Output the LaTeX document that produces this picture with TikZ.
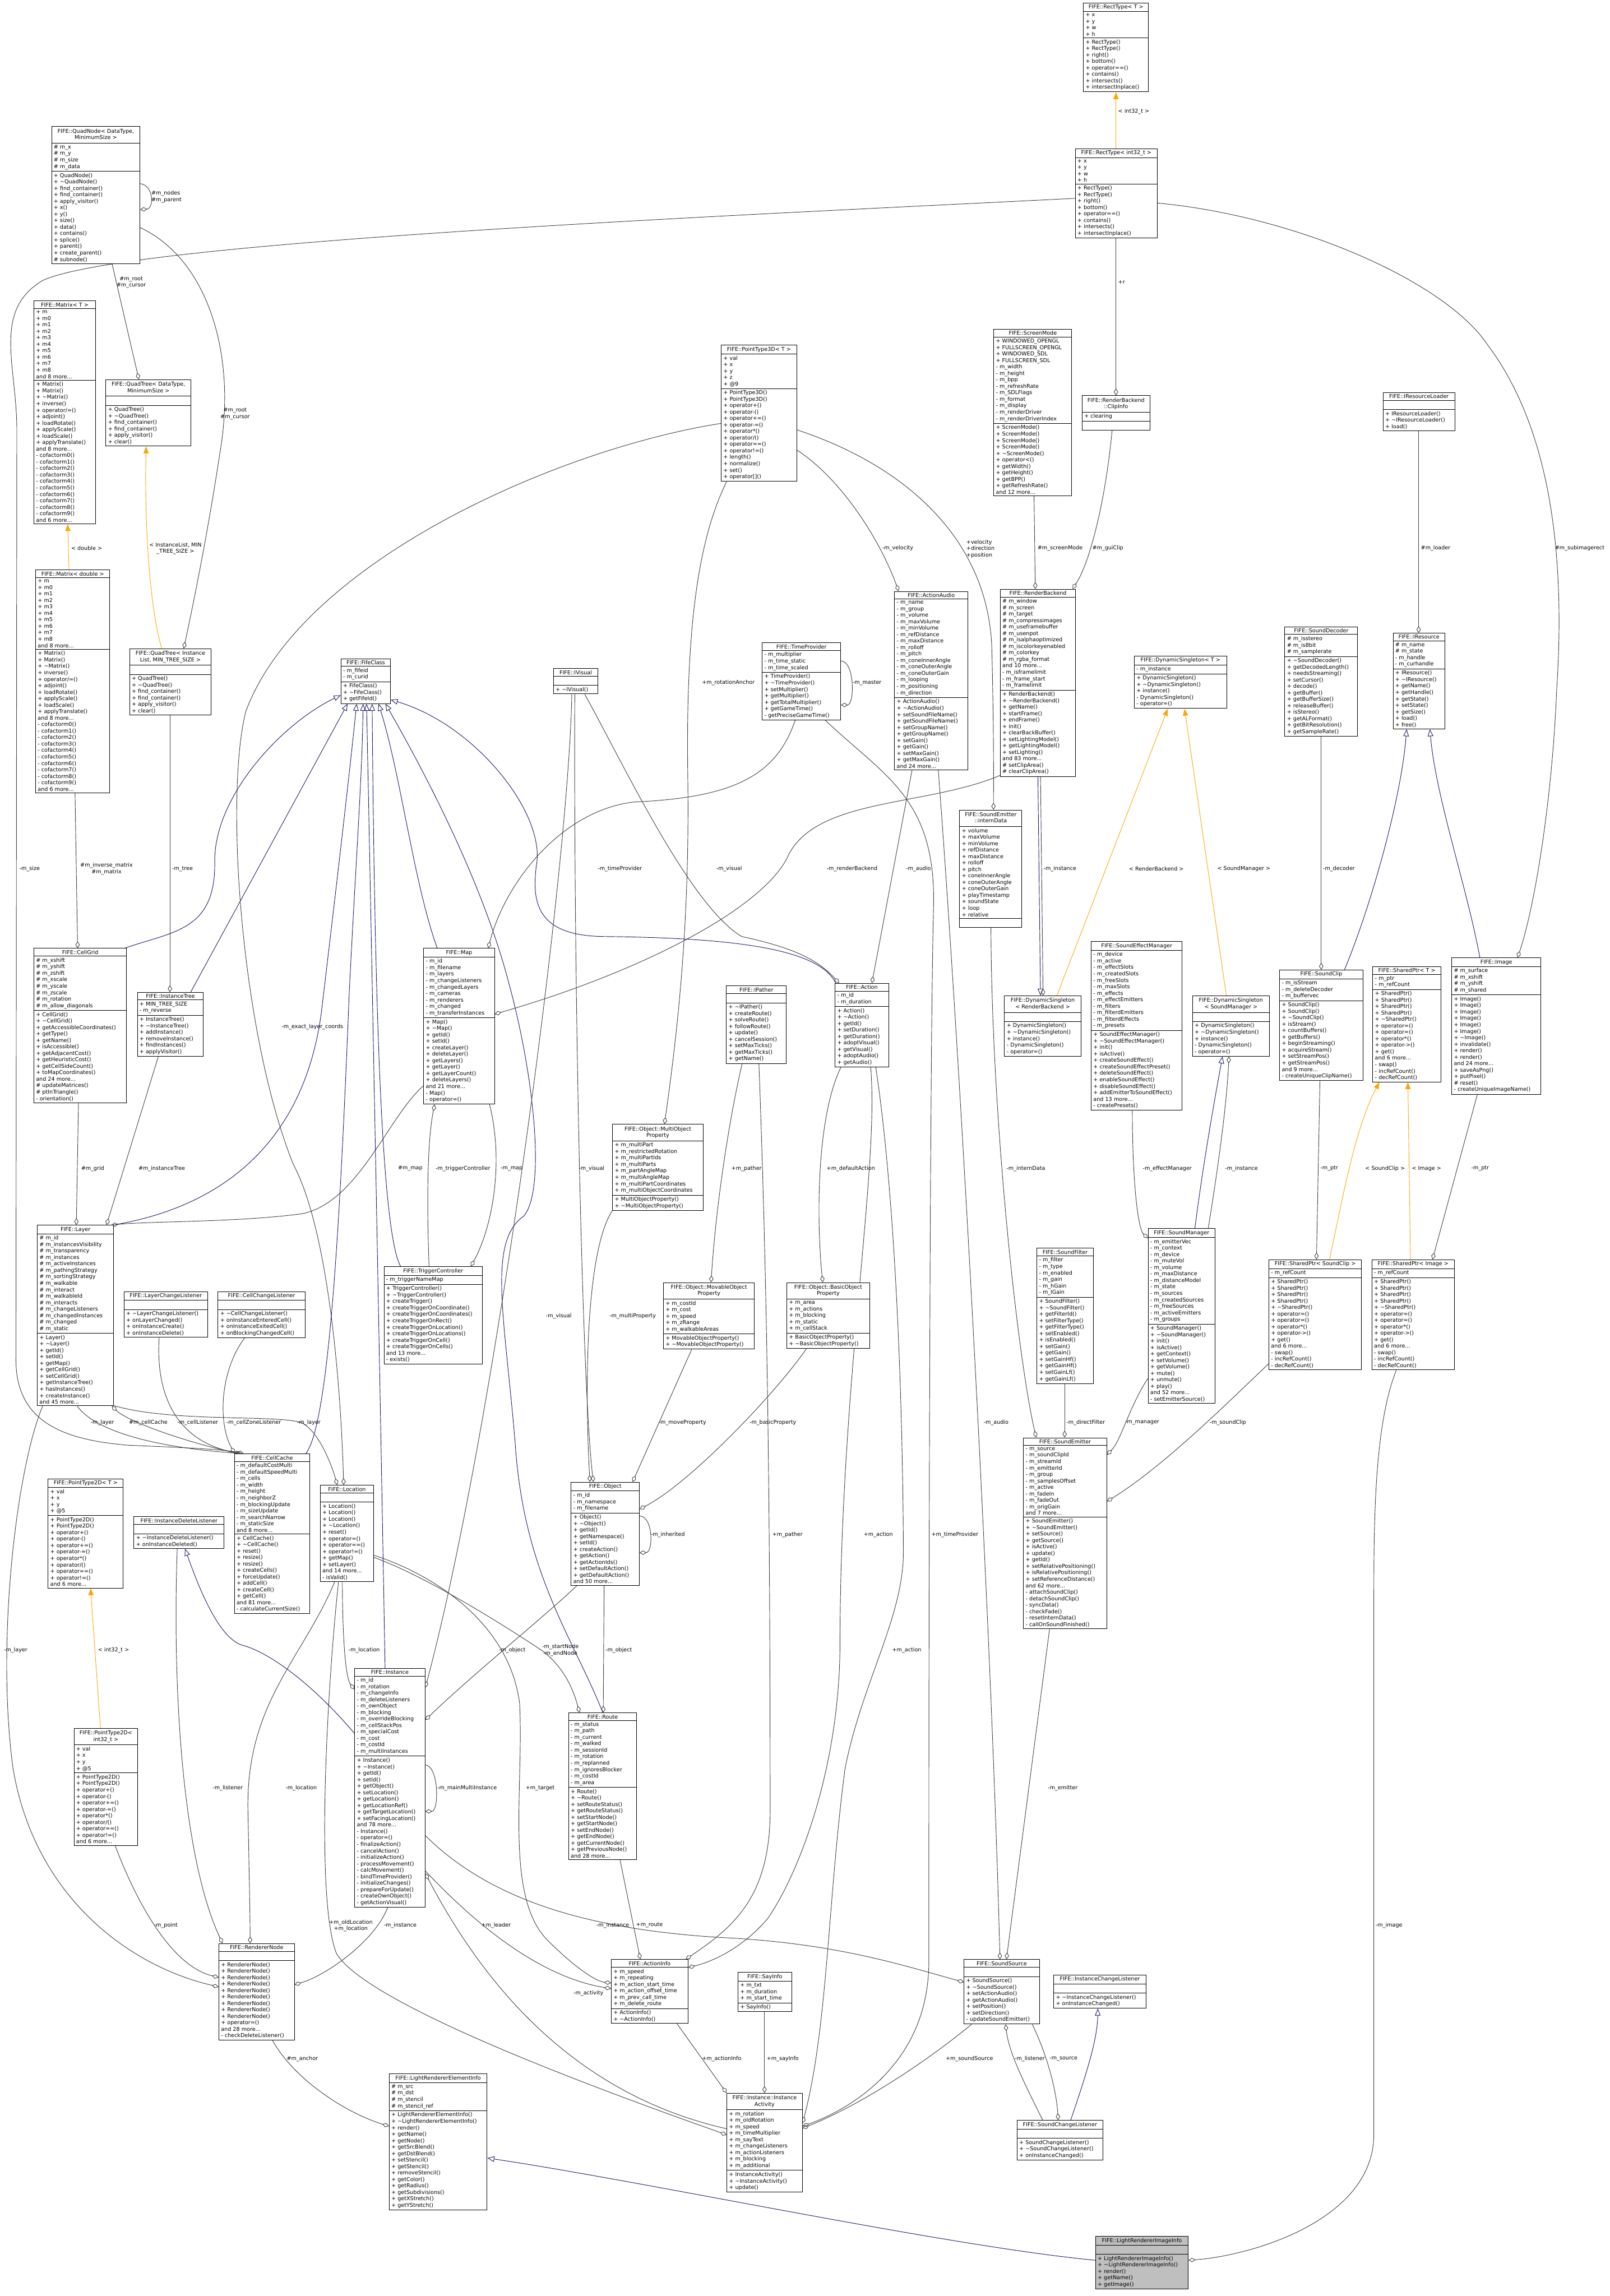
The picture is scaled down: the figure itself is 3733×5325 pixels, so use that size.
\documentclass[tikz,border=0pt]{standalone}
\usepackage{fontspec}
\setmainfont{DejaVu Sans}
\usetikzlibrary{shapes.multipart,arrows.meta}
\definecolor{edgegrey}{HTML}{404040}
\definecolor{inhblue}{HTML}{191970}
\definecolor{tplorange}{HTML}{FFA500}
\definecolor{hlgrey}{HTML}{BFBFBF}
\newcommand{\til}{\textasciitilde}
\newcommand{\emp}{\rule[-3pt]{0pt}{13pt}}
\newcommand{\two}[2]{\begin{tabular}{@{}c@{}}#1\\#2\end{tabular}}
\newcommand{\cls}[7]{\node[cbox,minimum width=#4pt] (#1) at (#2,#3) {#5\nodepart{two}#6\nodepart{three}#7};}
\newcommand{\matattr}{+ m\\+ m0\\+ m1\\+ m2\\+ m3\\+ m4\\+ m5\\+ m6\\+ m7\\+ m8\\and 8 more...}
\newcommand{\matmeth}{+ Matrix()\\+ Matrix()\\+ \til Matrix()\\+ inverse()\\+ operator/=()\\+ adjoint()\\+ loadRotate()\\+ applyScale()\\+ loadScale()\\+ applyTranslate()\\and 8 more...\\- cofactorm0()\\- cofactorm1()\\- cofactorm2()\\- cofactorm3()\\- cofactorm4()\\- cofactorm5()\\- cofactorm6()\\- cofactorm7()\\- cofactorm8()\\- cofactorm9()\\and 6 more...}
\newcommand{\qtmeth}{+ QuadTree()\\+ \til QuadTree()\\+ find\string_container()\\+ find\string_container()\\+ apply\string_visitor()\\+ clear()}
\newcommand{\rtattr}{+ x\\+ y\\+ w\\+ h}
\newcommand{\rtmeth}{+ RectType()\\+ RectType()\\+ right()\\+ bottom()\\+ operator==()\\+ contains()\\+ intersects()\\+ intersectInplace()}
\newcommand{\dsmeth}{+ DynamicSingleton()\\+ \til DynamicSingleton()\\+ instance()\\- DynamicSingleton()\\- operator=()}
\newcommand{\spmeth}{+ SharedPtr()\\+ SharedPtr()\\+ SharedPtr()\\+ SharedPtr()\\+ \til SharedPtr()\\+ operator=()\\+ operator=()\\+ operator*()\\+ operator->()\\+ get()\\and 6 more...\\- swap()\\- incRefCount()\\- decRefCount()}
\newcommand{\ptattr}{+ val\\+ x\\+ y\\+ @5}
\newcommand{\ptmeth}{+ PointType2D()\\+ PointType2D()\\+ operator+()\\+ operator-()\\+ operator+=()\\+ operator-=()\\+ operator*()\\+ operator/()\\+ operator==()\\+ operator!=()\\and 6 more...}
\pgfdeclarelayer{bg}
\pgfsetlayers{bg,main}
\tikzset{
  cbox/.style={rectangle split, rectangle split parts=3, draw=black, line width=1.3pt, fill=white,
    anchor=north west, align=left, inner xsep=5pt, inner ysep=3.5pt,
    rectangle split part align={center,left,left}, font=\fontsize{12.5}{15}\selectfont},
  agg/.style={draw=edgegrey, line width=1.2pt, -{Diamond[open,length=16pt,width=10pt]}},
  inh/.style={draw=inhblue, line width=1.2pt, -{Triangle[open,length=16pt,width=13pt]}},
  tpl/.style={draw=tplorange, line width=1.2pt, -{Triangle[length=16pt,width=12pt]}},
  lbl/.style={font=\fontsize{12.5}{15}\selectfont, inner sep=0pt, anchor=west, align=left},
  lblc/.style={lbl, align=center}
}
\begin{document}
\catcode`\_=12
\begin{tikzpicture}[x=1pt,y=-1pt]
\useasboundingbox (0,0) rectangle (3733,5325);
\begin{pgfonlayer}{bg}
\fill[white] (0,0) rectangle (3733,5325);
\end{pgfonlayer}

% ---------------- classes ----------------
\cls{quadnode}{119}{293}{205}{\two{FIFE::QuadNode< DataType,}{MinimumSize >}}{\# m_x\\\# m_y\\\# m_size\\\# m_data}{+ QuadNode()\\+ \til QuadNode()\\+ find_container()\\+ find_container()\\+ apply_visitor()\\+ x()\\+ y()\\+ size()\\+ data()\\+ contains()\\+ splice()\\+ parent()\\+ create_parent()\\\# subnode()}
\cls{matrixT}{78}{697}{143}{FIFE::Matrix< T >}{\matattr}{\matmeth}
\cls{matrixD}{82}{1321}{172}{FIFE::Matrix< double >}{\matattr}{\matmeth}
\cls{quadtreeDT}{245}{880}{197}{\two{FIFE::QuadTree< DataType,}{MinimumSize >}}{\emp}{\qtmeth}
\cls{quadtreeIL}{300}{1504}{189}{\two{FIFE::QuadTree< Instance}{List, MIN_TREE_SIZE >}}{\emp}{\qtmeth}
\cls{fifeclass}{790}{1527}{115}{FIFE::FifeClass}{- m_fifeid\\- m_curid}{+ FifeClass()\\+ \til FifeClass()\\+ getFifeId()}
\cls{ivisual}{1283}{1550}{103}{FIFE::IVisual}{\emp}{+ \til IVisual()}
\cls{pt3d}{1672}{800}{175}{FIFE::PointType3D< T >}{+ val\\+ x\\+ y\\+ z\\+ @9}{+ PointType3D()\\+ PointType3D()\\+ operator+()\\+ operator-()\\+ operator+=()\\+ operator-=()\\+ operator*()\\+ operator/()\\+ operator==()\\+ operator!=()\\+ length()\\+ normalize()\\+ set()\\+ operator[]()}
\cls{timeprov}{1767}{1490}{182}{FIFE::TimeProvider}{- m_multiplier\\- m_time_static\\- m_time_scaled}{+ TimeProvider()\\+ \til TimeProvider()\\+ setMultiplier()\\+ getMultiplier()\\+ getTotalMultiplier()\\+ getGameTime()\\- getPreciseGameTime()}
\cls{rectT}{2512}{6}{151}{FIFE::RectType< T >}{\rtattr}{\rtmeth}
\cls{rectI}{2493}{344}{190}{FIFE::RectType< int32_t >}{\rtattr}{\rtmeth}
\cls{clipinfo}{2509}{917}{157}{\two{FIFE::RenderBackend}{::ClipInfo}}{+ clearing}{\emp}
\cls{screenmode}{2304}{763}{181}{FIFE::ScreenMode}{+ WINDOWED_OPENGL\\+ FULLSCREEN_OPENGL\\+ WINDOWED_SDL\\+ FULLSCREEN_SDL\\- m_width\\- m_height\\- m_bpp\\- m_refreshRate\\- m_SDLFlags\\- m_format\\- m_display\\- m_renderDriver\\- m_renderDriverIndex}{+ ScreenMode()\\+ ScreenMode()\\+ ScreenMode()\\+ ScreenMode()\\+ \til ScreenMode()\\+ operator<()\\+ getWidth()\\+ getHeight()\\+ getBPP()\\+ getRefreshRate()\\and 12 more...}
\cls{renderbackend}{2319}{1366}{175}{FIFE::RenderBackend}{\# m_window\\\# m_screen\\\# m_target\\\# m_compressimages\\\# m_useframebuffer\\\# m_usenpot\\\# m_isalphaoptimized\\\# m_iscolorkeyenabled\\\# m_colorkey\\\# m_rgba_format\\and 10 more...\\- m_isframelimit\\- m_frame_start\\- m_framelimit}{+ RenderBackend()\\+ \til RenderBackend()\\+ getName()\\+ startFrame()\\+ endFrame()\\+ init()\\+ clearBackBuffer()\\+ setLightingModel()\\+ getLightingModel()\\+ setLighting()\\and 83 more...\\\# setClipArea()\\\# clearClipArea()}
\cls{actionaudio}{2074}{1371}{170}{FIFE::ActionAudio}{- m_name\\- m_group\\- m_volume\\- m_maxVolume\\- m_minVolume\\- m_refDistance\\- m_maxDistance\\- m_rolloff\\- m_pitch\\- m_coneInnerAngle\\- m_coneOuterAngle\\- m_coneOuterGain\\- m_looping\\- m_positioning\\- m_direction}{+ ActionAudio()\\+ \til ActionAudio()\\+ setSoundFileName()\\+ getSoundFileName()\\+ setGroupName()\\+ getGroupName()\\+ setGain()\\+ getGain()\\+ setMaxGain()\\+ getMaxGain()\\and 24 more...}
\cls{dsT}{2630}{1521}{214}{FIFE::DynamicSingleton< T >}{- m_instance}{\dsmeth}
\cls{sounddecoder}{2979}{1453}{169}{FIFE::SoundDecoder}{\# m_isstereo\\\# m_is8bit\\\# m_samplerate}{+ \til SoundDecoder()\\+ getDecodedLength()\\+ needsStreaming()\\+ setCursor()\\+ decode()\\+ getBuffer()\\+ getBufferSize()\\+ releaseBuffer()\\+ isStereo()\\+ getALFormat()\\+ getBitResolution()\\+ getSampleRate()}
\cls{iresloader}{3207}{910}{166}{FIFE::IResourceLoader}{\emp}{+ IResourceLoader()\\+ \til IResourceLoader()\\+ load()}
\cls{iresource}{3230}{1468}{120}{FIFE::IResource}{\# m_name\\\# m_state\\- m_handle\\- m_curhandle}{+ IResource()\\+ \til IResource()\\+ getName()\\+ getHandle()\\+ getState()\\+ setState()\\+ getSize()\\+ load()\\+ free()}
\cls{interndata}{2225}{1878}{144}{\two{FIFE::SoundEmitter}{::internData}}{+ volume\\+ maxVolume\\+ minVolume\\+ refDistance\\+ maxDistance\\+ rolloff\\+ pitch\\+ coneInnerAngle\\+ coneOuterAngle\\+ coneOuterGain\\+ playTimestamp\\+ soundState\\+ loop\\+ relative}{\emp}
\cls{action}{1936}{2280}{124}{FIFE::Action}{- m_id\\- m_duration}{+ Action()\\+ \til Action()\\+ getId()\\+ setDuration()\\+ getDuration()\\+ adoptVisual()\\+ getVisual()\\+ adoptAudio()\\+ getAudio()}
\cls{dsRB}{2329}{2309}{177}{\two{FIFE::DynamicSingleton}{< RenderBackend >}}{\emp}{\dsmeth}
\cls{sem}{2530}{2183}{211}{FIFE::SoundEffectManager}{- m_device\\- m_active\\- m_effectSlots\\- m_createdSlots\\- m_freeSlots\\- m_maxSlots\\- m_effects\\- m_effectEmitters\\- m_filters\\- m_filterdEmitters\\- m_filterdEffects\\- m_presets}{+ SoundEffectManager()\\+ \til SoundEffectManager()\\+ init()\\+ isActive()\\+ createSoundEffect()\\+ createSoundEffectPreset()\\+ deleteSoundEffect()\\+ enableSoundEffect()\\+ disableSoundEffect()\\+ addEmitterToSoundEffect()\\and 13 more...\\- createPresets()}
\cls{dsSM}{2765}{2309}{178}{\two{FIFE::DynamicSingleton}{< SoundManager >}}{\emp}{\dsmeth}
\cls{soundclip}{2967}{2249}{193}{FIFE::SoundClip}{- m_isStream\\- m_deleteDecoder\\- m_buffervec}{+ SoundClip()\\+ SoundClip()\\+ \til SoundClip()\\+ isStream()\\+ countBuffers()\\+ getBuffers()\\+ beginStreaming()\\+ acquireStream()\\+ setStreamPos()\\+ getStreamPos()\\and 9 more...\\- createUniqueClipName()}
\cls{sharedT}{3183}{2241}{158}{FIFE::SharedPtr< T >}{- m_ptr\\- m_refCount}{\spmeth}
\cls{image}{3366}{2221}{207}{FIFE::Image}{\# m_surface\\\# m_xshift\\\# m_yshift\\\# m_shared}{+ Image()\\+ Image()\\+ Image()\\+ Image()\\+ Image()\\+ Image()\\+ \til Image()\\+ invalidate()\\+ render()\\+ render()\\and 24 more...\\+ saveAsPng()\\+ putPixel()\\\# reset()\\- createUniqueImageName()}
\cls{cellgrid}{78}{2199}{215}{FIFE::CellGrid}{\# m_xshift\\\# m_yshift\\\# m_zshift\\\# m_xscale\\\# m_yscale\\\# m_zscale\\\# m_rotation\\\# m_allow_diagonals}{+ CellGrid()\\+ \til CellGrid()\\+ getAccessibleCoordinates()\\+ getType()\\+ getName()\\+ isAccessible()\\+ getAdjacentCost()\\+ getHeuristicCost()\\+ getCellSideCount()\\+ toMapCoordinates()\\and 24 more...\\\# updateMatrices()\\\# ptInTriangle()\\- orientation()}
\cls{insttree}{318}{2301}{153}{FIFE::InstanceTree}{+ MIN_TREE_SIZE\\- m_reverse}{+ InstanceTree()\\+ \til InstanceTree()\\+ addInstance()\\+ removeInstance()\\+ findInstances()\\+ applyVisitor()}
\cls{map}{982}{2199}{164}{FIFE::Map}{- m_id\\- m_filename\\- m_layers\\- m_changeListeners\\- m_changedLayers\\- m_cameras\\- m_renderers\\- m_changed\\- m_transferInstances}{+ Map()\\+ \til Map()\\+ getId()\\+ setId()\\+ createLayer()\\+ deleteLayer()\\+ getLayers()\\+ getLayer()\\+ getLayerCount()\\+ deleteLayers()\\and 21 more...\\- Map()\\- operator=()}
\cls{ipather}{1684}{2286}{139}{FIFE::IPather}{\emp}{+ \til IPather()\\+ createRoute()\\+ solveRoute()\\+ followRoute()\\+ update()\\+ cancelSession()\\+ setMaxTicks()\\+ getMaxTicks()\\+ getName()}
\cls{multiprop}{1420}{2607}{210}{\two{FIFE::Object::MultiObject}{Property}}{+ m_multiPart\\+ m_restrictedRotation\\+ m_multiPartIds\\+ m_multiParts\\+ m_partAngleMap\\+ m_multiAngleMap\\+ m_multiPartCoordinates\\+ m_multiObjectCoordinates}{+ MultiObjectProperty()\\+ \til MultiObjectProperty()}
\cls{layer}{86}{2841}{177}{FIFE::Layer}{\# m_id\\\# m_instancesVisibility\\\# m_transparency\\\# m_instances\\\# m_activeInstances\\\# m_pathingStrategy\\\# m_sortingStrategy\\\# m_walkable\\\# m_interact\\\# m_walkableId\\\# m_interacts\\\# m_changeListeners\\\# m_changedInstances\\\# m_changed\\\# m_static}{+ Layer()\\+ \til Layer()\\+ getId()\\+ setId()\\+ getMap()\\+ getCellGrid()\\+ setCellGrid()\\+ getInstanceTree()\\+ hasInstances()\\+ createInstance()\\and 45 more...}
\cls{trigger}{890}{2937}{228}{FIFE::TriggerController}{- m_triggerNameMap}{+ TriggerController()\\+ \til TriggerController()\\+ createTrigger()\\+ createTriggerOnCoordinate()\\+ createTriggerOnCoordinates()\\+ createTriggerOnRect()\\+ createTriggerOnLocation()\\+ createTriggerOnLocations()\\+ createTriggerOnCell()\\+ createTriggerOnCells()\\and 13 more...\\- exists()}
\cls{layerlistener}{287}{2995}{194}{FIFE::LayerChangeListener}{\emp}{+ \til LayerChangeListener()\\+ onLayerChanged()\\+ onInstanceCreate()\\+ onInstanceDelete()}
\cls{celllistener}{505}{2995}{202}{FIFE::CellChangeListener}{\emp}{+ \til CellChangeListener()\\+ onInstanceEnteredCell()\\+ onInstanceExitedCell()\\+ onBlockingChangedCell()}
\cls{movprop}{1538}{2974}{211}{\two{FIFE::Object::MovableObject}{Property}}{+ m_costId\\+ m_cost\\+ m_speed\\+ m_zRange\\+ m_walkableAreas}{+ MovableObjectProperty()\\+ \til MovableObjectProperty()}
\cls{basicprop}{1824}{2974}{192}{\two{FIFE::Object::BasicObject}{Property}}{+ m_area\\+ m_actions\\+ m_blocking\\+ m_static\\+ m_cellStack}{+ BasicObjectProperty()\\+ \til BasicObjectProperty()}
\cls{soundmgr}{2662}{2849}{155}{FIFE::SoundManager}{- m_emitterVec\\- m_context\\- m_device\\- m_muteVol\\- m_volume\\- m_maxDistance\\- m_distanceModel\\- m_state\\- m_sources\\- m_createdSources\\- m_freeSources\\- m_activeEmitters\\- m_groups}{+ SoundManager()\\+ \til SoundManager()\\+ init()\\+ isActive()\\+ getContext()\\+ setVolume()\\+ getVolume()\\+ mute()\\+ unmute()\\+ play()\\and 52 more...\\- setEmitterSource()}
\cls{soundfilter}{2404}{2894}{131}{FIFE::SoundFilter}{- m_filter\\- m_type\\- m_enabled\\- m_gain\\- m_hGain\\- m_lGain}{+ SoundFilter()\\+ \til SoundFilter()\\+ getFilterId()\\+ setFilterType()\\+ getFilterType()\\+ setEnabled()\\+ isEnabled()\\+ setGain()\\+ getGain()\\+ setGainHf()\\+ getGainHf()\\+ setGainLf()\\+ getGainLf()}
\cls{sharedSC}{2942}{2921}{215}{FIFE::SharedPtr< SoundClip >}{- m_refCount}{\spmeth}
\cls{sharedImg}{3181}{2921}{191}{FIFE::SharedPtr< Image >}{- m_refCount}{\spmeth}
\cls{soundemitter}{2373}{3334}{193}{FIFE::SoundEmitter}{- m_source\\- m_soundClipId\\- m_streamId\\- m_emitterId\\- m_group\\- m_samplesOffset\\- m_active\\- m_fadeIn\\- m_fadeOut\\- m_origGain\\and 7 more...}{+ SoundEmitter()\\+ \til SoundEmitter()\\+ setSource()\\+ getSource()\\+ isActive()\\+ update()\\+ getId()\\+ setRelativePositioning()\\+ isRelativePositioning()\\+ setReferenceDistance()\\and 62 more...\\- attachSoundClip()\\- detachSoundClip()\\- syncData()\\- checkFade()\\- resetInternData()\\- callOnSoundFinished()}
\cls{cellcache}{543}{3371}{175}{FIFE::CellCache}{- m_defaultCostMulti\\- m_defaultSpeedMulti\\- m_cells\\- m_width\\- m_height\\- m_neighborZ\\- m_blockingUpdate\\- m_sizeUpdate\\- m_searchNarrow\\- m_staticSize\\and 8 more...}{+ CellCache()\\+ \til CellCache()\\+ reset()\\+ resize()\\+ resize()\\+ createCells()\\+ forceUpdate()\\+ addCell()\\+ createCell()\\+ getCell()\\and 81 more...\\- calculateCurrentSize()}
\cls{location}{742}{3444}{124}{FIFE::Location}{\emp}{+ Location()\\+ Location()\\+ Location()\\+ \til Location()\\+ reset()\\+ operator=()\\+ operator==()\\+ operator!=()\\+ getMap()\\+ setLayer()\\and 14 more...\\- isValid()}
\cls{pt2dT}{111}{3429}{174}{FIFE::PointType2D< T >}{\ptattr}{\ptmeth}
\cls{idl}{310}{3517}{209}{FIFE::InstanceDeleteListener}{\emp}{+ \til InstanceDeleteListener()\\+ onInstanceDeleted()}
\cls{object}{1324}{3437}{158}{FIFE::Object}{- m_id\\- m_namespace\\- m_filename}{+ Object()\\+ \til Object()\\+ getId()\\+ getNamespace()\\+ setId()\\+ createAction()\\+ getAction()\\+ getActionIds()\\+ setDefaultAction()\\+ getDefaultAction()\\and 50 more...}
\cls{instance}{822}{3869}{163}{FIFE::Instance}{- m_id\\- m_rotation\\- m_changeInfo\\- m_deleteListeners\\- m_ownObject\\- m_blocking\\- m_overrideBlocking\\- m_cellStackPos\\- m_specialCost\\- m_cost\\- m_costId\\- m_multiInstances}{+ Instance()\\+ \til Instance()\\+ getId()\\+ setId()\\+ getObject()\\+ setLocation()\\+ getLocation()\\+ getLocationRef()\\+ getTargetLocation()\\+ setFacingLocation()\\and 78 more...\\- Instance()\\- operator=()\\- finalizeAction()\\- cancelAction()\\- initializeAction()\\- processMovement()\\- calcMovement()\\- bindTimeProvider()\\- initializeChanges()\\- prepareForUpdate()\\- createOwnObject()\\- getActionVisual()}
\cls{route}{1318}{3972}{158}{FIFE::Route}{- m_status\\- m_path\\- m_current\\- m_walked\\- m_sessionId\\- m_rotation\\- m_replanned\\- m_ignoresBlocker\\- m_costId\\- m_area}{+ Route()\\+ \til Route()\\+ setRouteStatus()\\+ getRouteStatus()\\+ setStartNode()\\+ getStartNode()\\+ setEndNode()\\+ getEndNode()\\+ getCurrentNode()\\+ getPreviousNode()\\and 28 more...}
\cls{pt2dI}{171}{4008}{148}{\two{FIFE::PointType2D<}{int32_t >}}{\ptattr}{\ptmeth}
\cls{rnode}{507}{4507}{175}{FIFE::RendererNode}{\emp}{+ RendererNode()\\+ RendererNode()\\+ RendererNode()\\+ RendererNode()\\+ RendererNode()\\+ RendererNode()\\+ RendererNode()\\+ RendererNode()\\+ RendererNode()\\+ operator=()\\and 28 more...\\- checkDeleteListener()}
\cls{actioninfo}{1417}{4544}{178}{FIFE::ActionInfo}{+ m_speed\\+ m_repeating\\+ m_action_start_time\\+ m_action_offset_time\\+ m_prev_call_time\\+ m_delete_route}{+ ActionInfo()\\+ \til ActionInfo()}
\cls{sayinfo}{1711}{4574}{124}{FIFE::SayInfo}{+ m_txt\\+ m_duration\\+ m_start_time}{+ SayInfo()}
\cls{soundsource}{2235}{4544}{175}{FIFE::SoundSource}{\emp}{+ SoundSource()\\+ \til SoundSource()\\+ setActionAudio()\\+ getActionAudio()\\+ setPosition()\\+ setDirection()\\- updateSoundEmitter()}
\cls{icl}{2443}{4580}{214}{FIFE::InstanceChangeListener}{\emp}{+ \til InstanceChangeListener()\\+ onInstanceChanged()}
\cls{lrei}{902}{4809}{227}{FIFE::LightRendererElementInfo}{\# m_src\\\# m_dst\\\# m_stencil\\\# m_stencil_ref}{+ LightRendererElementInfo()\\+ \til LightRendererElementInfo()\\+ render()\\+ getName()\\+ getNode()\\+ getSrcBlend()\\+ getDstBlend()\\+ setStencil()\\+ getStencil()\\+ removeStencil()\\+ getColor()\\+ getRadius()\\+ getSubdivisions()\\+ getXStretch()\\+ getYStretch()}
\cls{instactivity}{1685}{4854}{175}{\two{FIFE::Instance::Instance}{Activity}}{+ m_rotation\\+ m_oldRotation\\+ m_speed\\+ m_timeMultiplier\\+ m_sayText\\+ m_changeListeners\\+ m_actionListeners\\+ m_blocking\\+ m_additional}{+ InstanceActivity()\\+ \til InstanceActivity()\\+ update()}
\cls{scl}{2358}{4917}{199}{FIFE::SoundChangeListener}{\emp}{+ SoundChangeListener()\\+ \til SoundChangeListener()\\+ onInstanceChanged()}
\node[cbox, minimum width=215pt, fill=hlgrey] (lrii) at (2540,5186) {FIFE::LightRendererImageInfo\nodepart{two}\emp\nodepart{three}+ LightRendererImageInfo()\\+ \til LightRendererImageInfo()\\+ render()\\+ getName()\\+ getImage()};

% ---------------- connectors ----------------
\begin{pgfonlayer}{bg}
\draw[agg] ([yshift=-133]quadnode.north east) .. controls +(32,4) and +(32,-2) .. ([yshift=-193]quadnode.north east);
\draw[agg] ([xshift=141]quadnode.south west) -- ([xshift=77]quadtreeDT.north west);
\draw[agg] ([yshift=-235]quadnode.north east) .. controls (480,600) and (550,820) .. (510,1050) .. controls (480,1250) and (440,1440) .. ([xshift=126]quadtreeIL.north west);
\draw[tpl] ([xshift=75]quadtreeIL.north west) .. controls (345,1400) and (335,1200) .. ([xshift=94]quadtreeDT.south west);
\draw[tpl] ([xshift=78]matrixD.north west) -- ([xshift=79]matrixT.south west);
\draw[agg] ([xshift=92]matrixD.south west) -- ([xshift=102]cellgrid.north west);
\draw[agg] ([xshift=94]quadtreeIL.south west) -- ([xshift=76]insttree.north west);
\draw[agg] ([xshift=104]cellgrid.south west) -- ([xshift=91]layer.north west);
\draw[agg] ([xshift=49]insttree.south west) -- ([xshift=161]layer.north west);
\draw[agg] ([yshift=-319]map.north west) .. controls (900,2590) and (830,2790) .. (700,2815) .. controls (550,2835) and (350,2832) .. ([xshift=-6]layer.north east);
\draw[inh] ([xshift=-2]layer.north east) .. controls (480,2805) and (700,2680) .. (745,2350) .. controls (775,2100) and (810,1800) .. ([xshift=37]fifeclass.south west);
\draw[inh] ([xshift=-5]cellgrid.north east) .. controls (400,2160) and (500,2160) .. (498,2000) .. controls (495,1850) and (650,1680) .. ([yshift=20]fifeclass.south west);
\draw[inh] ([xshift=-30]insttree.north east) -- ([xshift=16]fifeclass.south west);
\draw[inh] ([xshift=-10]cellcache.north east) .. controls (765,3300) and (790,2800) .. (810,2300) .. controls (825,2000) and (840,1800) .. ([xshift=52]fifeclass.south west);
\draw[inh] ([xshift=71]instance.north west) .. controls (885,3400) and (858,2000) .. ([xshift=60]fifeclass.south west);
\draw[inh] ([xshift=39]trigger.north west) .. controls (880,2850) and (868,2200) .. ([xshift=73]fifeclass.south west);
\draw[inh] ([xshift=32]map.north west) .. controls (960,2050) and (930,1800) .. ([xshift=88]fifeclass.south west);
\draw[inh] ([xshift=80]route.north west) .. controls (1330,3800) and (1215,3650) .. (1195,3350) .. controls (1170,3050) and (1130,2880) .. (1215,2820) .. controls (1265,2760) and (1240,2500) .. (1180,2280) .. controls (1120,2050) and (990,1800) .. ([xshift=104]fifeclass.south west);
\draw[inh] ([xshift=2]action.north west) .. controls (1900,2200) and (1700,2175) .. (1400,2172) .. controls (1250,2170) and (1230,2100) .. (1245,2000) .. controls (1260,1880) and (1100,1680) .. ([yshift=-96]fifeclass.north east);
\draw[agg] ([xshift=73]ivisual.south west) .. controls (1450,1780) and (1600,2100) .. (1720,2172) .. controls (1850,2200) and (1900,2230) .. ([xshift=10]action.north west);
\draw[agg] ([xshift=50]ivisual.south west) .. controls (1330,2200) and (1348,3200) .. ([xshift=52]object.north west);
\draw[agg] ([xshift=43]ivisual.south west) .. controls (1320,2000) and (1150,3300) .. ([yshift=-45]instance.north east);
\draw[agg] ([yshift=-182]pt3d.north west) .. controls (1300,1040) and (700,1300) .. (570,1650) .. controls (520,1850) and (560,2400) .. (680,2700) .. controls (760,2850) and (790,3200) .. ([xshift=55]location.north west);
\draw[agg] ([xshift=13]pt3d.south west) .. controls (1620,1250) and (1590,1450) .. (1595,1800) .. controls (1600,2150) and (1570,2400) .. ([xshift=121]multiprop.north west);
\draw[agg] ([yshift=-244]pt3d.north east) .. controls (1950,1110) and (2040,1250) .. ([xshift=10]actionaudio.north west);
\draw[agg] ([yshift=-197]pt3d.north east) .. controls (2100,1080) and (2290,1250) .. (2300,1500) .. controls (2305,1700) and (2304,1800) .. ([xshift=79]interndata.north west);
\draw[agg] ([yshift=-43]timeprov.north east) .. controls +(32,0) and +(32,0) .. ([yshift=-145]timeprov.north east);
\draw[agg] ([xshift=77]timeprov.south west) .. controls (1800,1800) and (1700,1850) .. (1470,1860) .. controls (1300,1880) and (1170,2050) .. ([xshift=-15]map.north east);
\draw[agg] ([xshift=147]timeprov.south west) .. controls (2050,1800) and (2170,1850) .. (2165,2100) .. controls (2155,2500) and (2154,4000) .. (2154,4550) .. controls (2154,4800) and (1950,4900) .. ([yshift=-77]instactivity.north east);
\draw[agg] ([yshift=3]renderbackend.south west) .. controls (2150,1870) and (1900,1850) .. (1830,1980) .. controls (1780,2100) and (1500,2250) .. ([yshift=-153]map.north east);
\draw[agg] ([xshift=41]actionaudio.south west) -- ([xshift=86]action.north west);
\draw[agg] ([xshift=102]actionaudio.south west) .. controls (2230,2500) and (2300,3800) .. ([xshift=84]soundsource.north west);
\draw[agg] ([xshift=61]soundemitter.south west) -- ([xshift=99]soundsource.north west);
\draw[agg] ([xshift=73]interndata.south west) .. controls (2300,2600) and (2360,3150) .. ([xshift=30]soundemitter.north west);
\draw[agg] ([xshift=65]soundfilter.south west) -- ([xshift=96]soundemitter.north west);
\draw[agg] ([yshift=-348]soundmgr.north west) .. controls (2620,3260) and (2600,3340) .. ([yshift=-40]soundemitter.north east);
\draw[agg] ([yshift=-242]sharedSC.north west) .. controls (2850,3250) and (2700,3400) .. ([yshift=-148]soundemitter.north east);
\draw[agg] ([xshift=96]sem.south west) .. controls (2626,2750) and (2640,2850) .. ([yshift=-23]soundmgr.north west);
\draw[tpl] ([xshift=122]dsRB.north west) -- ([xshift=78]dsT.south west);
\draw[tpl] ([xshift=79]dsSM.north west) -- ([xshift=117]dsT.south west);
\draw[inh] ([xshift=88]renderbackend.south west) -- ([xshift=84]dsRB.north west);
\draw[agg] ([xshift=94]renderbackend.south west) -- ([xshift=90]dsRB.north west);
\draw[inh] ([xshift=109]soundmgr.north west) .. controls (2790,2700) and (2815,2560) .. ([xshift=70]dsSM.south west);
\draw[agg] ([xshift=140]soundmgr.north west) .. controls (2826,2700) and (2845,2560) .. ([xshift=85]dsSM.south west);
\draw[agg] ([xshift=85]sounddecoder.south west) -- ([xshift=97]soundclip.north west);
\draw[inh] ([xshift=151]soundclip.north west) .. controls (3180,2100) and (3250,1850) .. ([xshift=32]iresource.south west);
\draw[inh] ([xshift=66]image.north west) .. controls (3400,2050) and (3330,1850) .. ([xshift=86]iresource.south west);
\draw[agg] ([xshift=83]iresloader.south west) -- ([xshift=60]iresource.north west);
\draw[agg] ([yshift=-127]rectI.north east) .. controls (3000,500) and (3350,650) .. (3450,800) .. controls (3600,1000) and (3630,1300) .. (3610,1600) .. controls (3600,1850) and (3560,2100) .. ([xshift=-55]image.north east);
\draw[tpl] ([xshift=95]rectI.north west) -- ([xshift=76]rectT.south west);
\draw[agg] ([xshift=95]rectI.south west) -- ([xshift=79]clipinfo.north west);
\draw[agg] ([yshift=-116]rectI.north west) .. controls (1700,500) and (300,560) .. (100,650) .. controls (-20,720) and (40,850) .. (39,1000) -- (37,3150) .. controls (35,3300) and (150,3340) .. (300,3352) .. controls (450,3358) and (520,3362) .. ([xshift=22]cellcache.north west);
\draw[agg] ([xshift=93]layer.south west) .. controls (230,3330) and (400,3360) .. ([xshift=18]cellcache.north west);
\draw[agg] ([xshift=10]cellcache.north west) .. controls (450,3350) and (300,3300) .. ([xshift=-5]layer.south east);
\draw[agg] ([xshift=82]layerlistener.south west) .. controls (360,3250) and (420,3345) .. ([xshift=14]cellcache.north west);
\draw[agg] ([xshift=62]celllistener.south west) .. controls (510,3180) and (505,3300) .. ([xshift=1]cellcache.north west);
\draw[agg] ([yshift=-419]layer.north east) .. controls (400,3300) and (650,3280) .. (700,3300) .. controls (740,3320) and (770,3400) .. ([xshift=40]location.north west);
\draw[agg] ([xshift=13]layer.south west) .. controls (40,3400) and (-10,3800) .. (30,4100) .. controls (80,4400) and (300,4560) .. ([yshift=-101]rnode.north west);
\draw[tpl] ([xshift=62]pt2dI.north west) -- ([xshift=99]pt2dT.south west);
\draw[agg] ([xshift=96]pt2dI.south west) .. controls (320,4420) and (400,4560) .. ([yshift=-79]rnode.north west);
\draw[agg] ([xshift=101]idl.south west) .. controls (400,3900) and (420,4300) .. ([xshift=9]rnode.north west);
\draw[agg] ([xshift=34]location.south west) .. controls (700,3850) and (570,3950) .. (575,4200) .. controls (578,4350) and (580,4450) .. ([xshift=73]rnode.north west);
\draw[agg] ([xshift=77]instance.south west) .. controls (870,4500) and (760,4580) .. ([yshift=-96]rnode.north east);
\draw[inh] ([yshift=-151]instance.north west) .. controls (720,3900) and (620,3830) .. (560,3815) .. controls (500,3795) and (450,3650) .. ([xshift=119]idl.south west);
\draw[agg] ([xshift=52]location.south west) .. controls (794,3780) and (800,3890) .. ([yshift=-49]instance.north west);
\draw[agg] ([xshift=14]object.south west) .. controls (1250,3760) and (1100,3880) .. ([yshift=-120]instance.north east);
\draw[agg] ([yshift=-224]instance.north east) .. controls +(32,4) and +(32,0) .. ([yshift=-332]instance.north east);
\draw[agg] ([yshift=-388]instance.north east) .. controls (1150,4420) and (1400,4480) .. (1700,4495) .. controls (1950,4510) and (2100,4560) .. ([yshift=-53]soundsource.north west);
\draw[agg] ([yshift=-470]instance.north east) .. controls (1100,4460) and (1250,4585) .. ([yshift=-68]actioninfo.north west);
\draw[agg] ([yshift=-83]instactivity.north west) .. controls (1300,4850) and (1100,4560) .. ([yshift=-476]instance.north east);
\draw[agg] ([xshift=43]location.south west) .. controls (760,3900) and (730,4400) .. (780,4530) .. controls (850,4650) and (1400,4850) .. ([yshift=-97]instactivity.north west);
\draw[agg] ([yshift=-168]location.north east) .. controls (1000,3660) and (1200,3790) .. (1260,3830) .. controls (1310,3870) and (1330,3920) .. ([xshift=26]route.north west);
\draw[agg] ([yshift=-163]location.north east) .. controls (1000,3650) and (1180,3760) .. (1205,3950) .. controls (1215,4150) and (1170,4400) .. (1270,4500) .. controls (1330,4560) and (1380,4595) .. ([yshift=-55]actioninfo.north west);
\draw[agg] ([xshift=77]object.south west) -- ([xshift=81]route.north west);
\draw[agg] ([yshift=-79]object.north east) .. controls +(32,0) and +(32,0) .. ([yshift=-164]object.north east);
\draw[agg] ([xshift=120]route.south west) -- ([xshift=68]actioninfo.north west);
\draw[agg] ([xshift=76]ipather.south west) .. controls (1780,3000) and (1786,3500) .. (1786,4200) .. controls (1786,4400) and (1700,4470) .. ([xshift=-6]actioninfo.north east);
\draw[agg] ([xshift=37]ipather.south west) .. controls (1690,2600) and (1660,2800) .. ([xshift=111]movprop.north west);
\draw[agg] ([xshift=83]action.south west) .. controls (2040,2700) and (1950,3200) .. (1948,3800) .. controls (1950,4100) and (1850,4350) .. (1780,4450) .. controls (1720,4520) and (1650,4550) .. ([yshift=-19]actioninfo.north east);
\draw[agg] ([xshift=95]action.south west) .. controls (2080,2800) and (2094,3300) .. (2095,3600) .. controls (2095,3750) and (2000,3900) .. (1960,4100) .. controls (1920,4400) and (1920,4700) .. ([yshift=-70]instactivity.north east);
\draw[agg] ([xshift=14]action.south west) .. controls (1890,2600) and (1895,2850) .. ([xshift=84]basicprop.north west);
\draw[agg] (multiprop.south west) .. controls (1360,2900) and (1355,3200) .. ([xshift=44]object.north west);
\draw[agg] ([xshift=66]movprop.south west) -- ([xshift=143]object.north west);
\draw[agg] ([xshift=46]basicprop.south west) .. controls (1800,3230) and (1600,3440) .. ([yshift=-63]object.north east);
\draw[agg] ([xshift=105]trigger.north west) .. controls (990,2800) and (990,2650) .. ([xshift=26]map.south west);
\draw[agg] ([xshift=-12]map.south east) .. controls (1170,2700) and (1140,2850) .. ([xshift=202]trigger.north west);
\draw[agg] ([xshift=153]actioninfo.south west) -- (instactivity.north west);
\draw[agg] ([xshift=62]sayinfo.south west) -- ([xshift=88]instactivity.north west);
\draw[agg] ([xshift=18]soundsource.south west) .. controls (2150,4780) and (2000,4880) .. ([yshift=-82]instactivity.north east);
\draw[agg] ([xshift=159]soundsource.south west) .. controls (2430,4770) and (2450,4850) .. ([xshift=96]scl.north west);
\draw[agg] ([xshift=60]scl.north west) .. controls (2370,4820) and (2340,4760) .. ([xshift=97]soundsource.south west);
\draw[inh] ([xshift=125]scl.north west) .. controls (2530,4780) and (2545,4720) .. ([xshift=103]icl.south west);
\draw[inh] ([yshift=-56]lrii.north west) .. controls (2200,5210) and (1500,5060) .. ([yshift=-196]lrei.north east);
\draw[agg] ([xshift=57]sharedImg.south west) .. controls (3190,3300) and (3186,3500) .. (3186,3700) -- (3186,4950) .. controls (3186,5150) and (2900,5232) .. ([yshift=-56]lrii.north east);
\draw[agg] ([xshift=125]rnode.south west) .. controls (680,4820) and (800,4900) .. ([yshift=-122]lrei.north west);
\draw[agg] ([xshift=70]clipinfo.south west) .. controls (2565,1150) and (2530,1300) .. ([xshift=-8]renderbackend.north east);
\draw[agg] ([xshift=94]screenmode.south west) -- ([xshift=82]renderbackend.north west);
\draw[agg] ([xshift=94]soundclip.south west) -- ([xshift=111]sharedSC.north west);
\draw[tpl] ([xshift=141]sharedSC.north west) .. controls (3110,2800) and (3140,2620) .. ([xshift=16]sharedT.south west);
\draw[tpl] ([xshift=90]sharedImg.north west) -- ([xshift=82]sharedT.south west);
\draw[agg] ([xshift=60]image.south west) -- ([xshift=141]sharedImg.north west);
\end{pgfonlayer}

% ---------------- labels ----------------
\node[lbl] (lb1) at (351,456) {\#m_nodes\\\#m_parent};
\node[lblc] (lb2) at (270,655) {\#m_root\\\#m_cursor};
\node[lblc] (lb3) at (511,960) {\#m_root\\\#m_cursor};
\node[lblc] (lb4) at (346,1272) {< InstanceList, MIN\\_TREE_SIZE >};
\node[lbl] (lb5) at (165,1271) {< double >};
\node[lbl] (lb6) at (45,2015) {-m_size};
\node[lblc] (lb7) at (186,2015) {\#m_inverse_matrix\\\#m_matrix};
\node[lbl] (lb8) at (399,2015) {-m_tree};
\node[lbl] (lb9) at (188,2710) {\#m_grid};
\node[lbl] (lb10) at (321,2710) {\#m_instanceTree};
\node[lbl] (lb11) at (653,2381) {-m_exact_layer_coords};
\node[lbl] (lb12) at (923,2710) {\#m_map};
\node[lbl] (lb13) at (210,3300) {-m_layer};
\node[lbl] (lb14) at (299,3300) {\#m_cellCache};
\node[lbl] (lb15) at (411,3300) {-m_cellListener};
\node[lbl] (lb16) at (525,3300) {-m_cellZoneListener};
\node[lbl] (lb17) at (689,3300) {-m_layer};
\node[lbl] (lb18) at (9,3827) {-m_layer};
\node[lbl] (lb19) at (227,3827) {< int32_t >};
\node[lbl] (lb20) at (493,4147) {-m_listener};
\node[lbl] (lb21) at (662,4147) {-m_location};
\node[lbl] (lb22) at (808,3827) {-m_location};
\node[lbl] (lb23) at (357,4465) {-m_point};
\node[lblc] (lb24) at (763,4466) {+m_oldLocation\\+m_location};
\node[lbl] (lb25) at (890,4465) {-m_instance};
\node[lbl] (lb26) at (665,4775) {\#m_anchor};
\node[lbl] (lb27) at (1010,2710) {-m_triggerController};
\node[lbl] (lb28) at (1161,2710) {-m_map};
\node[lbl] (lb29) at (1386,2015) {-m_timeProvider};
\node[lbl] (lb30) at (1661,2015) {-m_visual};
\node[lbl] (lb31) at (1342,2710) {-m_visual};
\node[lbl] (lb32) at (1266,3052) {-m_visual};
\node[lbl] (lb33) at (1413,3052) {-m_multiProperty};
\node[lbl] (lb34) at (1696,2710) {+m_pather};
\node[lbl] (lb35) at (1527,3300) {-m_moveProperty};
\node[lbl] (lb36) at (1738,3300) {-m_basicProperty};
\node[lbl] (lb37) at (1509,3559) {-m_inherited};
\node[lbl] (lb38) at (1791,3559) {+m_pather};
\node[lbl] (lb39) at (1157,3827) {-m_object};
\node[lblc] (lb40) at (1257,3827) {-m_startNode\\-m_endNode};
\node[lbl] (lb41) at (1404,3827) {-m_object};
\node[lbl] (lb42) at (1014,4147) {-m_mainMultiInstance};
\node[lbl] (lb43) at (1219,4147) {+m_target};
\node[lbl] (lb44) at (1116,4465) {+m_leader};
\node[lbl] (lb45) at (1383,4465) {-m_instance};
\node[lbl] (lb46) at (1475,4465) {+m_route};
\node[lbl] (lb47) at (1330,4623) {-m_activity};
\node[lbl] (lb48) at (1628,4775) {+m_actionInfo};
\node[lbl] (lb49) at (1778,4775) {+m_sayInfo};
\node[lbl] (lb50) at (1628,1584) {+m_rotationAnchor};
\node[lbl] (lb51) at (1977,1584) {-m_master};
\node[lbl] (lb52) at (2046,1271) {-m_velocity};
\node[lbl] (lb53) at (2241,1273) {+velocity\\+direction\\+position};
\node[lbl] (lb54) at (2406,1271) {\#m_screenMode};
\node[lbl] (lb55) at (2533,1271) {\#m_guiClip};
\node[lbl] (lb56) at (2593,655) {+r};
\node[lbl] (lb57) at (2593,259) {< int32_t >};
\node[lbl] (lb58) at (3295,1271) {\#m_loader};
\node[lbl] (lb59) at (3606,1271) {\#m_subimagerect};
\node[lbl] (lb60) at (1917,2015) {-m_renderBackend};
\node[lbl] (lb61) at (2101,2015) {-m_audio};
\node[lbl] (lb62) at (2420,2015) {-m_instance};
\node[lbl] (lb63) at (2618,2015) {< RenderBackend >};
\node[lbl] (lb64) at (2823,2015) {< SoundManager >};
\node[lbl] (lb65) at (3068,2015) {-m_decoder};
\node[lbl] (lb66) at (1917,2710) {+m_defaultAction};
\node[lbl] (lb67) at (2334,2710) {-m_internData};
\node[lbl] (lb68) at (2650,2710) {-m_effectManager};
\node[lbl] (lb69) at (2841,2710) {-m_instance};
\node[lbl] (lb70) at (3062,2710) {-m_ptr};
\node[lbl] (lb71) at (3166,2710) {< SoundClip >};
\node[lbl] (lb72) at (3274,2710) {< Image >};
\node[lbl] (lb73) at (3412,2710) {-m_ptr};
\node[lbl] (lb74) at (2281,3300) {-m_audio};
\node[lbl] (lb75) at (2473,3300) {-m_directFilter};
\node[lbl] (lb76) at (2609,3300) {-m_manager};
\node[lbl] (lb77) at (2805,3300) {-m_soundClip};
\node[lbl] (lb78) at (2003,3559) {+m_action};
\node[lbl] (lb79) at (2160,3559) {+m_timeProvider};
\node[lbl] (lb80) at (2069,3827) {+m_action};
\node[lbl] (lb81) at (2430,4147) {-m_emitter};
\node[lbl] (lb82) at (2193,4775) {+m_soundSource};
\node[lbl] (lb83) at (2353,4775) {-m_listener};
\node[lbl] (lb84) at (2434,4775) {-m_source};
\node[lbl] (lb85) at (3190,4465) {-m_image};
\end{tikzpicture}
\end{document}
